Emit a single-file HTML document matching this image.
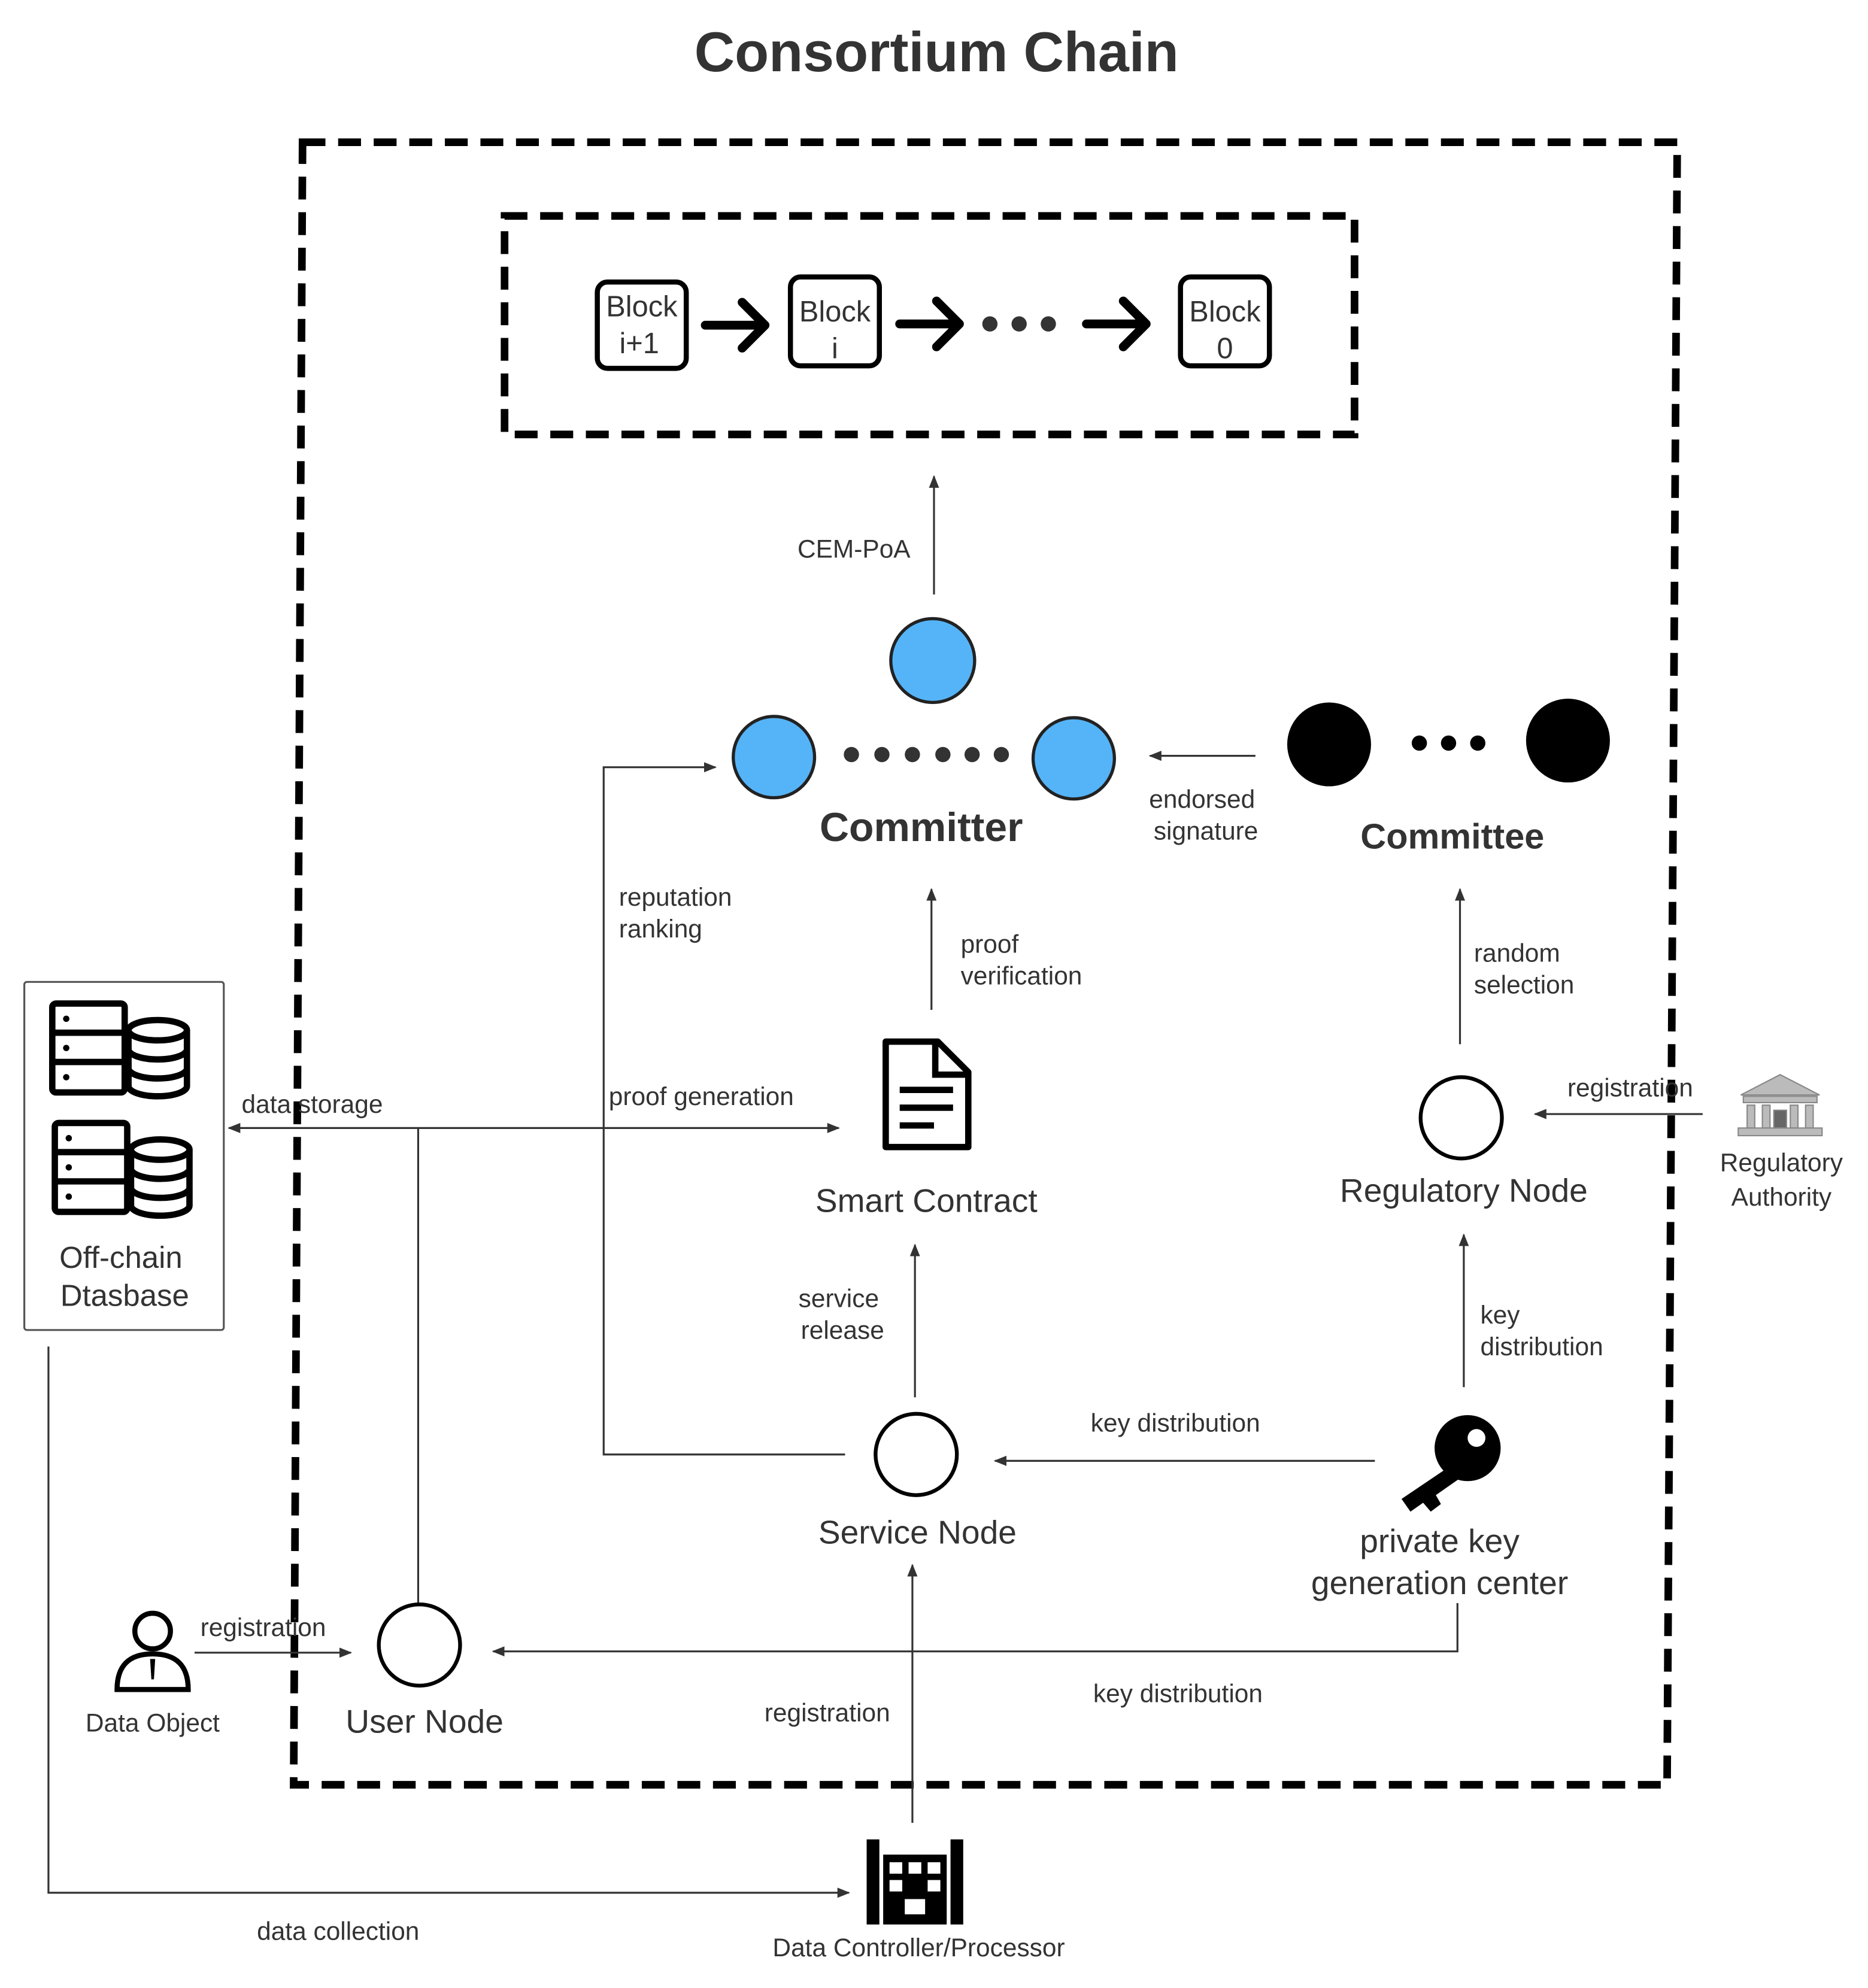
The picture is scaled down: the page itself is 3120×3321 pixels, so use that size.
<!DOCTYPE html>
<html><head><meta charset="utf-8"><style>
html,body{margin:0;padding:0;background:#fff;}
svg{display:block;}
text{font-family:"Liberation Sans",sans-serif;fill:#333;}
</style></head><body>
<svg width="3120" height="3321" viewBox="0 0 1470 1565" xmlns="http://www.w3.org/2000/svg">
<defs>
<marker id="a" markerWidth="10" markerHeight="8" refX="9" refY="4" orient="auto" markerUnits="userSpaceOnUse"><path d="M0,0 L10,4 L0,8 z" fill="#333"/></marker>
</defs>
<text x="737" y="56" font-size="44" font-weight="bold" text-anchor="middle" fill="#333">Consortium Chain</text>
<!-- outer dashed -->
<path d="M238,112 L1320,112 L1312,1405 L231,1405 Z" fill="none" stroke="#000" stroke-width="6" stroke-dasharray="18,10"/>
<rect x="397" y="170" width="669" height="172" fill="none" stroke="#000" stroke-width="6" stroke-dasharray="18,10"/>
<!-- blocks -->
<g fill="none" stroke="#000" stroke-width="4">
<rect x="470" y="222" width="70" height="68" rx="8"/>
<rect x="622" y="218" width="70" height="70" rx="8"/>
<rect x="929" y="218" width="70" height="70" rx="8"/>
</g>
<g font-size="23" text-anchor="middle">
<text x="505" y="249">Block</text><text x="503" y="278">i+1</text>
<text x="657" y="253">Block</text><text x="657" y="282">i</text>
<text x="964" y="253">Block</text><text x="964" y="282">0</text>
</g>
<g stroke="#000" stroke-width="7" fill="none" stroke-linecap="round" stroke-linejoin="round">
<path d="M555,256 L600,256 M584,238 L602,256 L584,274"/>
<path d="M708,255 L753,255 M737,237 L755,255 L737,273"/>
<path d="M855,255 L900,255 M884,237 L902,255 L884,273"/>
</g>
<g fill="#333"><circle cx="779" cy="255" r="6"/><circle cx="802" cy="255" r="6"/><circle cx="825" cy="255" r="6"/></g>
<!-- CEM-PoA -->
<line x1="735" y1="468" x2="735" y2="375" stroke="#333" stroke-width="1.5" marker-end="url(#a)"/>
<text x="672" y="439" font-size="20" text-anchor="middle">CEM-PoA</text>
<!-- committer -->
<g fill="#55b4f8" stroke="#222" stroke-width="2.5">
<circle cx="734" cy="520" r="33"/><circle cx="609" cy="596" r="32"/><circle cx="845" cy="597" r="32"/>
</g>
<g fill="#333"><circle cx="670" cy="594" r="6"/><circle cx="694" cy="594" r="6"/><circle cx="718" cy="594" r="6"/><circle cx="742" cy="594" r="6"/><circle cx="765" cy="594" r="6"/><circle cx="788" cy="594" r="6"/></g>
<text x="725" y="662" font-size="32" font-weight="bold" text-anchor="middle">Committer</text>
<!-- committee -->
<g fill="#000"><circle cx="1046" cy="586" r="33"/><circle cx="1234" cy="583" r="33"/>
<circle cx="1117" cy="585" r="6"/><circle cx="1140" cy="585" r="6"/><circle cx="1163" cy="585" r="6"/></g>
<text x="1143" y="668" font-size="28" font-weight="bold" text-anchor="middle">Committee</text>
<line x1="988" y1="595" x2="905" y2="595" stroke="#333" stroke-width="1.5" marker-end="url(#a)"/>
<g font-size="20" text-anchor="middle"><text x="946" y="636">endorsed</text><text x="949" y="661">signature</text></g>
<!-- proof verification -->
<line x1="733" y1="795" x2="733" y2="700" stroke="#333" stroke-width="1.5" marker-end="url(#a)"/>
<g font-size="20"><text x="756" y="750">proof</text><text x="756" y="775">verification</text></g>
<!-- random selection -->
<line x1="1149" y1="822" x2="1149" y2="700" stroke="#333" stroke-width="1.5" marker-end="url(#a)"/>
<g font-size="20"><text x="1160" y="757">random</text><text x="1160" y="782">selection</text></g>
<!-- reputation ranking -->
<path d="M665,1145 L475,1145 L475,604 L563,604" fill="none" stroke="#333" stroke-width="1.5" marker-end="url(#a)"/>
<g font-size="20"><text x="487" y="713">reputation</text><text x="487" y="738">ranking</text></g>
<!-- data storage / proof generation -->
<line x1="329" y1="888" x2="660" y2="888" stroke="#333" stroke-width="1.5" marker-end="url(#a)"/>
<line x1="329" y1="888" x2="180" y2="888" stroke="#333" stroke-width="1.5" marker-end="url(#a)"/>
<line x1="329" y1="888" x2="329" y2="1262" stroke="#333" stroke-width="1.5"/>
<text x="190" y="876" font-size="20">data storage</text>
<text x="479" y="870" font-size="20">proof generation</text>
<!-- smart contract icon -->
<path d="M697,820 L738,820 L762,844 L762,903 L697,903 Z" fill="none" stroke="#000" stroke-width="5" stroke-linejoin="round"/>
<path d="M736,820 L736,846 L762,846" fill="none" stroke="#000" stroke-width="5"/>
<g stroke="#000" stroke-width="5"><line x1="708" y1="858" x2="750" y2="858"/><line x1="708" y1="872" x2="750" y2="872"/><line x1="708" y1="886" x2="735" y2="886"/></g>
<text x="729" y="954" font-size="26" text-anchor="middle">Smart Contract</text>
<!-- service release -->
<line x1="720" y1="1100" x2="720" y2="980" stroke="#333" stroke-width="1.5" marker-end="url(#a)"/>
<g font-size="20" text-anchor="middle"><text x="660" y="1029">service</text><text x="663" y="1054">release</text></g>
<circle cx="721" cy="1145" r="32" fill="#fff" stroke="#000" stroke-width="3"/>
<text x="722" y="1215" font-size="26" text-anchor="middle">Service Node</text>
<!-- key distribution -->
<line x1="1082" y1="1150" x2="783" y2="1150" stroke="#333" stroke-width="1.5" marker-end="url(#a)"/>
<text x="925" y="1127" font-size="20" text-anchor="middle">key distribution</text>
<!-- key icon -->
<circle cx="1155" cy="1140" r="26" fill="#000"/>
<circle cx="1162" cy="1132" r="7" fill="#fff"/>
<path d="M1140,1155 L1103,1180 L1110,1190 L1120,1183 L1126,1190 L1134,1184 L1130,1177 L1150,1163 Z" fill="#000"/>
<g font-size="26" text-anchor="middle"><text x="1133" y="1222">private key</text><text x="1133" y="1255">generation center</text></g>
<line x1="1152" y1="1092" x2="1152" y2="972" stroke="#333" stroke-width="1.5" marker-end="url(#a)"/>
<g font-size="20"><text x="1165" y="1042">key</text><text x="1165" y="1067">distribution</text></g>
<!-- regulatory node -->
<circle cx="1150" cy="880" r="32" fill="#fff" stroke="#000" stroke-width="3"/>
<text x="1152" y="946" font-size="26" text-anchor="middle">Regulatory Node</text>
<line x1="1340" y1="877" x2="1208" y2="877" stroke="#333" stroke-width="1.5" marker-end="url(#a)"/>
<text x="1283" y="863" font-size="20" text-anchor="middle">registration</text>
<!-- regulatory authority icon -->
<g fill="#bbb" stroke="#888" stroke-width="1">
<path d="M1370,862 L1401,846 L1432,862 Z"/>
<rect x="1372" y="863" width="58" height="5"/>
<rect x="1375" y="870" width="6" height="18"/><rect x="1387" y="870" width="6" height="18"/><rect x="1409" y="870" width="6" height="18"/><rect x="1421" y="870" width="6" height="18"/>
<rect x="1396" y="874" width="10" height="14" fill="#666"/>
<rect x="1368" y="888" width="66" height="6"/>
</g>
<g font-size="20" text-anchor="middle" fill="#555"><text x="1402" y="922">Regulatory</text><text x="1402" y="949">Authority</text></g>
<!-- user node -->
<circle cx="330" cy="1295" r="32" fill="#fff" stroke="#000" stroke-width="3"/>
<text x="334" y="1364" font-size="26" text-anchor="middle">User Node</text>
<path d="M1147,1262 L1147,1300 L388,1300" fill="none" stroke="#333" stroke-width="1.5" marker-end="url(#a)"/>
<text x="927" y="1340" font-size="20" text-anchor="middle">key distribution</text>
<!-- data object -->
<circle cx="120" cy="1284" r="14" fill="none" stroke="#000" stroke-width="4"/>
<path d="M92,1330 Q92,1302 120,1302 Q148,1302 148,1330 Z" fill="none" stroke="#000" stroke-width="4"/>
<path d="M118,1306 L122,1306 L121,1322 L119,1322Z" fill="#000"/>
<text x="120" y="1363" font-size="20" text-anchor="middle">Data Object</text>
<line x1="153" y1="1301" x2="276" y2="1301" stroke="#333" stroke-width="1.5" marker-end="url(#a)"/>
<text x="207" y="1288" font-size="20" text-anchor="middle">registration</text>
<!-- data controller registration -->
<line x1="718" y1="1435" x2="718" y2="1232" stroke="#333" stroke-width="1.5" marker-end="url(#a)"/>
<text x="651" y="1355" font-size="20" text-anchor="middle">registration</text>
<!-- data controller icon -->
<g fill="#000">
<rect x="682" y="1448" width="10" height="67"/><rect x="748" y="1448" width="10" height="67"/>
<rect x="695" y="1460" width="50" height="55"/>
</g>
<g fill="#fff"><rect x="700" y="1466" width="10" height="9"/><rect x="715" y="1466" width="10" height="9"/><rect x="730" y="1466" width="10" height="9"/>
<rect x="700" y="1480" width="10" height="9"/><rect x="730" y="1480" width="10" height="9"/>
<rect x="712" y="1495" width="16" height="12"/></g>
<text x="723" y="1540" font-size="20" text-anchor="middle">Data Controller/Processor</text>
<!-- off-chain db -->
<rect x="19" y="773" width="157" height="274" fill="#fff" stroke="#555" stroke-width="1.5" rx="2"/>
<g fill="none" stroke="#000" stroke-width="5">
<rect x="41" y="790" width="57" height="70" rx="3"/><line x1="41" y1="813" x2="98" y2="813"/><line x1="41" y1="836" x2="98" y2="836"/>
<ellipse cx="124" cy="811" rx="23" ry="8"/><path d="M101,811 L101,855 A23,8 0 0 0 147,855 L147,811 M101,826 A23,8 0 0 0 147,826 M101,841 A23,8 0 0 0 147,841"/>
<rect x="43" y="884" width="57" height="70" rx="3"/><line x1="43" y1="907" x2="100" y2="907"/><line x1="43" y1="930" x2="100" y2="930"/>
<ellipse cx="126" cy="905" rx="23" ry="8"/><path d="M103,905 L103,949 A23,8 0 0 0 149,949 L149,905 M103,920 A23,8 0 0 0 149,920 M103,935 A23,8 0 0 0 149,935"/>
</g>
<g fill="#000"><circle cx="52" cy="802" r="2.5"/><circle cx="52" cy="825" r="2.5"/><circle cx="52" cy="848" r="2.5"/><circle cx="54" cy="896" r="2.5"/><circle cx="54" cy="919" r="2.5"/><circle cx="54" cy="942" r="2.5"/></g>
<g font-size="24" text-anchor="middle"><text x="95" y="998">Off-chain</text><text x="98" y="1028">Dtasbase</text></g>
<!-- data collection -->
<path d="M38,1060 L38,1490 L668,1490" fill="none" stroke="#333" stroke-width="1.5" marker-end="url(#a)"/>
<text x="266" y="1527" font-size="20" text-anchor="middle">data collection</text>
</svg>
</body></html>
